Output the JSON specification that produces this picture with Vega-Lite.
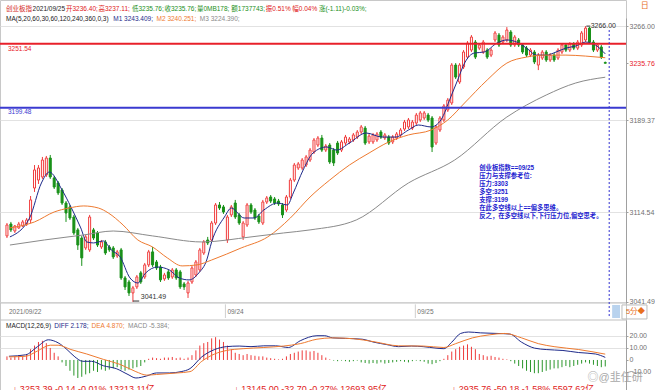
{
"$schema":"https://vega.github.io/schema/vega-lite/v6.json",
"width":626,"height":390,
"autosize":{"type":"none"},
"padding":{"left":0,"top":0,"right":29,"bottom":0},
"background":"#ffffff",
"config":{"view":{"stroke":"#c8c8c8"},"text":{"font":"Liberation Sans, Noto Sans CJK SC"},"axis":{"labelFont":"Liberation Sans"}},
"datasets":{
"k":[
{"i":0,"o":3095.2,"h":3105.7,"l":3093.5,"c":3104.1,"m":3},
{"i":1,"o":3104.9,"h":3106.6,"l":3098.4,"c":3100.1,"m":2},
{"i":2,"o":3099.2,"h":3104.1,"l":3097.6,"c":3103.3,"m":3},
{"i":3,"o":3101.7,"h":3106.6,"l":3100.9,"c":3104.9,"m":4},
{"i":4,"o":3103.3,"h":3108.2,"l":3102.5,"c":3106.6,"m":3},
{"i":5,"o":3104.9,"h":3109.8,"l":3103.3,"c":3108.2,"m":5},
{"i":6,"o":3108.2,"h":3127.7,"l":3105.7,"c":3124.5,"m":9},
{"i":7,"o":3134.2,"h":3152.9,"l":3131.0,"c":3148.9,"m":12},
{"i":8,"o":3140.7,"h":3152.9,"l":3137.5,"c":3150.5,"m":15},
{"i":9,"o":3143.2,"h":3159.5,"l":3141.6,"c":3157.0,"m":16},
{"i":10,"o":3144.8,"h":3160.3,"l":3143.2,"c":3158.6,"m":14},
{"i":11,"o":3158.6,"h":3161.1,"l":3141.6,"c":3143.2,"m":10},
{"i":12,"o":3142.4,"h":3144.0,"l":3133.4,"c":3135.0,"m":6},
{"i":13,"o":3138.3,"h":3139.9,"l":3128.5,"c":3130.2,"m":3},
{"i":14,"o":3132.6,"h":3134.2,"l":3120.4,"c":3122.0,"m":-2},
{"i":15,"o":3122.0,"h":3123.6,"l":3106.6,"c":3113.9,"m":-5},
{"i":16,"o":3118.8,"h":3120.4,"l":3108.2,"c":3109.8,"m":-9},
{"i":17,"o":3110.6,"h":3112.3,"l":3096.0,"c":3097.6,"m":-13},
{"i":18,"o":3100.1,"h":3101.7,"l":3083.8,"c":3087.8,"m":-15},
{"i":19,"o":3093.5,"h":3095.2,"l":3070.8,"c":3077.3,"m":-14},
{"i":20,"o":3085.4,"h":3096.0,"l":3083.8,"c":3094.4,"m":-12},
{"i":21,"o":3083.8,"h":3112.3,"l":3082.2,"c":3110.6,"m":-11},
{"i":22,"o":3100.1,"h":3101.7,"l":3091.9,"c":3093.5,"m":-9},
{"i":23,"o":3097.6,"h":3099.2,"l":3086.2,"c":3087.8,"m":-10},
{"i":24,"o":3086.2,"h":3091.9,"l":3084.6,"c":3090.3,"m":-8},
{"i":25,"o":3090.3,"h":3091.9,"l":3079.7,"c":3081.3,"m":-9},
{"i":26,"o":3086.2,"h":3087.8,"l":3082.2,"c":3083.8,"m":-8},
{"i":27,"o":3085.4,"h":3087.0,"l":3076.4,"c":3078.1,"m":-7},
{"i":28,"o":3078.9,"h":3083.8,"l":3077.3,"c":3082.2,"m":-6},
{"i":29,"o":3083.8,"h":3085.4,"l":3059.4,"c":3061.0,"m":-8},
{"i":30,"o":3061.0,"h":3062.6,"l":3051.2,"c":3053.7,"m":-9},
{"i":31,"o":3057.7,"h":3059.4,"l":3046.3,"c":3048.8,"m":-8},
{"i":32,"o":3048.8,"h":3054.5,"l":3041.49,"c":3052.9,"m":-7},
{"i":33,"o":3053.7,"h":3063.4,"l":3052.0,"c":3061.8,"m":-6},
{"i":34,"o":3065.1,"h":3066.7,"l":3056.1,"c":3057.7,"m":-5},
{"i":35,"o":3061.8,"h":3073.2,"l":3060.2,"c":3071.6,"m":-2},
{"i":36,"o":3071.6,"h":3083.8,"l":3069.9,"c":3082.2,"m":1},
{"i":37,"o":3082.2,"h":3086.2,"l":3069.9,"c":3071.6,"m":2},
{"i":38,"o":3074.0,"h":3075.6,"l":3067.5,"c":3069.1,"m":1.5},
{"i":39,"o":3069.9,"h":3071.6,"l":3057.7,"c":3059.4,"m":1},
{"i":40,"o":3060.2,"h":3065.1,"l":3058.6,"c":3063.4,"m":2},
{"i":41,"o":3065.9,"h":3067.5,"l":3059.4,"c":3061.0,"m":2},
{"i":42,"o":3061.8,"h":3069.1,"l":3060.2,"c":3067.5,"m":2.5},
{"i":43,"o":3067.5,"h":3069.1,"l":3059.4,"c":3061.0,"m":1.5},
{"i":44,"o":3065.9,"h":3067.5,"l":3052.0,"c":3053.7,"m":2},
{"i":45,"o":3056.1,"h":3057.7,"l":3051.2,"c":3053.7,"m":1},
{"i":46,"o":3048.8,"h":3058.6,"l":3044.7,"c":3056.9,"m":2},
{"i":47,"o":3057.7,"h":3070.8,"l":3056.1,"c":3069.1,"m":4},
{"i":48,"o":3063.4,"h":3075.6,"l":3061.8,"c":3074.0,"m":8},
{"i":49,"o":3067.5,"h":3085.4,"l":3065.9,"c":3083.8,"m":12},
{"i":50,"o":3081.3,"h":3091.9,"l":3079.7,"c":3090.3,"m":14},
{"i":51,"o":3091.9,"h":3094.4,"l":3087.8,"c":3089.5,"m":15},
{"i":52,"o":3091.9,"h":3107.4,"l":3090.3,"c":3105.7,"m":18},
{"i":53,"o":3105.7,"h":3122.0,"l":3104.1,"c":3120.4,"m":19},
{"i":54,"o":3120.4,"h":3122.8,"l":3116.3,"c":3117.9,"m":17},
{"i":55,"o":3118.8,"h":3120.4,"l":3113.1,"c":3114.7,"m":15},
{"i":56,"o":3091.9,"h":3112.3,"l":3089.5,"c":3110.6,"m":12},
{"i":57,"o":3112.3,"h":3120.4,"l":3110.6,"c":3118.8,"m":9},
{"i":58,"o":3122.0,"h":3124.5,"l":3109.0,"c":3110.6,"m":6},
{"i":59,"o":3112.3,"h":3113.9,"l":3104.1,"c":3105.7,"m":5},
{"i":60,"o":3094.4,"h":3107.4,"l":3091.9,"c":3105.7,"m":4},
{"i":61,"o":3104.1,"h":3122.0,"l":3102.5,"c":3120.4,"m":5},
{"i":62,"o":3120.4,"h":3122.0,"l":3113.1,"c":3114.7,"m":4},
{"i":63,"o":3116.3,"h":3117.9,"l":3108.2,"c":3109.8,"m":3.5},
{"i":64,"o":3111.4,"h":3113.1,"l":3104.9,"c":3106.6,"m":3},
{"i":65,"o":3105.7,"h":3124.5,"l":3104.1,"c":3122.8,"m":3},
{"i":66,"o":3122.8,"h":3127.7,"l":3121.2,"c":3126.1,"m":2},
{"i":67,"o":3126.9,"h":3128.5,"l":3122.0,"c":3123.6,"m":1.5},
{"i":68,"o":3125.3,"h":3126.9,"l":3120.4,"c":3122.0,"m":1},
{"i":69,"o":3123.6,"h":3125.3,"l":3119.6,"c":3121.2,"m":0.5},
{"i":70,"o":3120.4,"h":3122.0,"l":3109.8,"c":3112.3,"m":1},
{"i":71,"o":3116.3,"h":3128.5,"l":3114.7,"c":3126.9,"m":3},
{"i":72,"o":3126.9,"h":3142.4,"l":3125.3,"c":3140.7,"m":5},
{"i":73,"o":3140.7,"h":3154.6,"l":3139.1,"c":3152.9,"m":6},
{"i":74,"o":3150.5,"h":3155.4,"l":3148.9,"c":3153.8,"m":7},
{"i":75,"o":3150.5,"h":3158.6,"l":3148.9,"c":3157.0,"m":8},
{"i":76,"o":3152.9,"h":3161.1,"l":3151.3,"c":3159.5,"m":8},
{"i":77,"o":3157.0,"h":3166.8,"l":3155.4,"c":3165.1,"m":7},
{"i":78,"o":3163.5,"h":3174.9,"l":3161.9,"c":3173.3,"m":7.5},
{"i":79,"o":3169.2,"h":3176.5,"l":3167.6,"c":3174.9,"m":6},
{"i":80,"o":3174.9,"h":3177.4,"l":3163.5,"c":3165.1,"m":4},
{"i":81,"o":3165.1,"h":3170.0,"l":3163.5,"c":3168.4,"m":2},
{"i":82,"o":3169.2,"h":3170.8,"l":3153.8,"c":3155.4,"m":0.5},
{"i":83,"o":3165.1,"h":3166.8,"l":3152.1,"c":3154.6,"m":-0.5},
{"i":84,"o":3170.8,"h":3172.5,"l":3161.1,"c":3162.7,"m":-1},
{"i":85,"o":3165.1,"h":3173.3,"l":3163.5,"c":3171.7,"m":-0.5},
{"i":86,"o":3170.8,"h":3177.4,"l":3169.2,"c":3175.7,"m":-1},
{"i":87,"o":3171.7,"h":3175.7,"l":3170.0,"c":3174.1,"m":-1.5},
{"i":88,"o":3173.3,"h":3179.0,"l":3171.7,"c":3177.4,"m":-1},
{"i":89,"o":3175.7,"h":3181.4,"l":3174.1,"c":3179.8,"m":-0.5},
{"i":90,"o":3179.8,"h":3185.5,"l":3178.2,"c":3183.9,"m":-2},
{"i":91,"o":3183.0,"h":3184.7,"l":3169.2,"c":3170.8,"m":-2.5},
{"i":92,"o":3171.7,"h":3178.2,"l":3170.0,"c":3176.5,"m":-3},
{"i":93,"o":3171.7,"h":3179.0,"l":3170.0,"c":3177.4,"m":-2.5},
{"i":94,"o":3173.3,"h":3179.8,"l":3171.7,"c":3178.2,"m":-3},
{"i":95,"o":3179.8,"h":3181.4,"l":3174.1,"c":3175.7,"m":-2},
{"i":96,"o":3174.9,"h":3179.0,"l":3173.3,"c":3177.4,"m":-3},
{"i":97,"o":3175.7,"h":3177.4,"l":3169.2,"c":3170.8,"m":-2.5},
{"i":98,"o":3171.7,"h":3177.4,"l":3170.0,"c":3175.7,"m":-2},
{"i":99,"o":3174.9,"h":3179.8,"l":3173.3,"c":3178.2,"m":-1.5},
{"i":100,"o":3177.4,"h":3183.0,"l":3175.7,"c":3181.4,"m":-1},
{"i":101,"o":3182.2,"h":3189.6,"l":3180.6,"c":3187.9,"m":-1.5},
{"i":102,"o":3183.9,"h":3191.2,"l":3182.2,"c":3189.6,"m":-2},
{"i":103,"o":3183.0,"h":3189.6,"l":3181.4,"c":3187.9,"m":-1},
{"i":104,"o":3187.1,"h":3195.3,"l":3185.5,"c":3193.6,"m":-0.5},
{"i":105,"o":3189.6,"h":3196.9,"l":3187.9,"c":3195.3,"m":-1},
{"i":106,"o":3191.2,"h":3196.9,"l":3189.6,"c":3195.3,"m":-1.5},
{"i":107,"o":3193.6,"h":3195.3,"l":3187.9,"c":3189.6,"m":-3},
{"i":108,"o":3191.2,"h":3192.8,"l":3163.5,"c":3167.6,"m":-3.5},
{"i":109,"o":3170.8,"h":3185.5,"l":3169.2,"c":3183.9,"m":-2.5},
{"i":110,"o":3181.4,"h":3192.8,"l":3179.8,"c":3191.2,"m":-1},
{"i":111,"o":3189.6,"h":3202.6,"l":3187.9,"c":3201.0,"m":1},
{"i":112,"o":3197.7,"h":3207.5,"l":3196.1,"c":3205.8,"m":4},
{"i":113,"o":3203.4,"h":3235.9,"l":3201.8,"c":3234.3,"m":7},
{"i":114,"o":3234.3,"h":3235.9,"l":3222.9,"c":3224.5,"m":9},
{"i":115,"o":3220.5,"h":3235.9,"l":3218.9,"c":3234.3,"m":11},
{"i":116,"o":3232.7,"h":3246.5,"l":3231.1,"c":3244.9,"m":12},
{"i":117,"o":3240.8,"h":3253.8,"l":3239.2,"c":3252.2,"m":13},
{"i":118,"o":3246.5,"h":3258.7,"l":3244.9,"c":3257.1,"m":11},
{"i":119,"o":3253.0,"h":3254.7,"l":3239.2,"c":3240.8,"m":9},
{"i":120,"o":3248.1,"h":3252.2,"l":3246.5,"c":3250.6,"m":5},
{"i":121,"o":3244.9,"h":3254.7,"l":3243.3,"c":3253.0,"m":4},
{"i":122,"o":3246.5,"h":3248.1,"l":3239.2,"c":3240.8,"m":3},
{"i":123,"o":3242.4,"h":3248.1,"l":3240.8,"c":3246.5,"m":3.5},
{"i":124,"o":3254.7,"h":3262.0,"l":3253.0,"c":3260.4,"m":2.5},
{"i":125,"o":3258.7,"h":3260.4,"l":3249.0,"c":3250.6,"m":2},
{"i":126,"o":3253.0,"h":3258.7,"l":3251.4,"c":3257.1,"m":1},
{"i":127,"o":3254.7,"h":3265.2,"l":3253.0,"c":3262.8,"m":0.5},
{"i":128,"o":3261.2,"h":3262.8,"l":3249.0,"c":3250.6,"m":-1},
{"i":129,"o":3250.6,"h":3258.7,"l":3249.0,"c":3257.1,"m":-3},
{"i":130,"o":3254.7,"h":3256.3,"l":3249.0,"c":3250.6,"m":-5},
{"i":131,"o":3250.6,"h":3252.2,"l":3243.3,"c":3244.9,"m":-7},
{"i":132,"o":3248.1,"h":3249.8,"l":3240.8,"c":3242.4,"m":-9},
{"i":133,"o":3242.4,"h":3248.1,"l":3240.8,"c":3246.5,"m":-10},
{"i":134,"o":3244.9,"h":3246.5,"l":3235.1,"c":3236.8,"m":-11},
{"i":135,"o":3234.3,"h":3244.1,"l":3230.2,"c":3242.4,"m":-11},
{"i":136,"o":3240.0,"h":3246.5,"l":3238.4,"c":3244.9,"m":-10},
{"i":137,"o":3244.9,"h":3246.5,"l":3236.8,"c":3238.4,"m":-9},
{"i":138,"o":3238.4,"h":3244.1,"l":3236.8,"c":3242.4,"m":-8},
{"i":139,"o":3242.4,"h":3244.1,"l":3236.8,"c":3238.4,"m":-7},
{"i":140,"o":3240.0,"h":3248.1,"l":3238.4,"c":3246.5,"m":-7},
{"i":141,"o":3244.9,"h":3252.2,"l":3243.3,"c":3250.6,"m":-6},
{"i":142,"o":3250.6,"h":3252.2,"l":3244.9,"c":3246.5,"m":-5},
{"i":143,"o":3246.5,"h":3253.0,"l":3244.9,"c":3251.4,"m":-6},
{"i":144,"o":3251.4,"h":3253.0,"l":3246.5,"c":3248.1,"m":-5},
{"i":145,"o":3248.1,"h":3254.7,"l":3246.5,"c":3253.0,"m":-4},
{"i":146,"o":3250.6,"h":3262.0,"l":3249.0,"c":3260.4,"m":-3},
{"i":147,"o":3254.7,"h":3266.0,"l":3253.0,"c":3264.4,"m":-2},
{"i":148,"o":3264.4,"h":3265.2,"l":3251.4,"c":3253.0,"m":-3},
{"i":149,"o":3253.0,"h":3254.7,"l":3244.9,"c":3246.5,"m":-4},
{"i":150,"o":3246.5,"h":3252.2,"l":3244.9,"c":3250.6,"m":-5},
{"i":151,"o":3249.0,"h":3250.6,"l":3239.2,"c":3240.8,"m":-6},
{"i":152,"o":3236.4,"h":3237.11,"l":3235.76,"c":3235.76,"m":-5.384}
],
"ma":[
{"i":0.75,"v":3094.4,"s":"MA5"},{"i":5.75,"v":3109.8,"s":"MA5"},{"i":8.75,"v":3138.3,"s":"MA5"},{"i":10.75,"v":3147.2,"s":"MA5"},{"i":14,"v":3132.6,"s":"MA5"},{"i":16.25,"v":3118.8,"s":"MA5"},{"i":18.75,"v":3101.7,"s":"MA5"},{"i":20.25,"v":3090.3,"s":"MA5"},{"i":22,"v":3089.5,"s":"MA5"},{"i":24.5,"v":3091.1,"s":"MA5"},{"i":26.5,"v":3083.8,"s":"MA5"},{"i":28.75,"v":3078.1,"s":"MA5"},{"i":31.25,"v":3061.0,"s":"MA5"},{"i":33.25,"v":3056.9,"s":"MA5"},{"i":35.25,"v":3065.1,"s":"MA5"},{"i":38.25,"v":3069.9,"s":"MA5"},{"i":41.25,"v":3067.5,"s":"MA5"},{"i":43.75,"v":3061.0,"s":"MA5"},{"i":46.25,"v":3059.4,"s":"MA5"},{"i":48.75,"v":3065.1,"s":"MA5"},{"i":50.75,"v":3075.6,"s":"MA5"},{"i":52,"v":3090.3,"s":"MA5"},{"i":55.25,"v":3110.6,"s":"MA5"},{"i":57,"v":3117.9,"s":"MA5"},{"i":60.25,"v":3109.8,"s":"MA5"},{"i":62.75,"v":3109.8,"s":"MA5"},{"i":65.25,"v":3116.3,"s":"MA5"},{"i":68.75,"v":3122.0,"s":"MA5"},{"i":71.25,"v":3120.4,"s":"MA5"},{"i":72.75,"v":3130.2,"s":"MA5"},{"i":75.25,"v":3148.9,"s":"MA5"},{"i":77.75,"v":3162.7,"s":"MA5"},{"i":81.25,"v":3167.6,"s":"MA5"},{"i":83.75,"v":3165.1,"s":"MA5"},{"i":87,"v":3170.8,"s":"MA5"},{"i":91.25,"v":3179.0,"s":"MA5"},{"i":95.25,"v":3175.7,"s":"MA5"},{"i":98.75,"v":3175.7,"s":"MA5"},{"i":102,"v":3181.4,"s":"MA5"},{"i":104.5,"v":3185.5,"s":"MA5"},{"i":107.75,"v":3183.9,"s":"MA5"},{"i":110.25,"v":3189.6,"s":"MA5"},{"i":112.75,"v":3208.3,"s":"MA5"},{"i":114.5,"v":3222.1,"s":"MA5"},{"i":116.25,"v":3235.9,"s":"MA5"},{"i":118.75,"v":3244.1,"s":"MA5"},{"i":121.25,"v":3244.9,"s":"MA5"},{"i":124.5,"v":3252.2,"s":"MA5"},{"i":127,"v":3254.7,"s":"MA5"},{"i":129.5,"v":3253.0,"s":"MA5"},{"i":132,"v":3248.1,"s":"MA5"},{"i":134.5,"v":3242.4,"s":"MA5"},{"i":137,"v":3242.4,"s":"MA5"},{"i":139.5,"v":3244.9,"s":"MA5"},{"i":142,"v":3248.1,"s":"MA5"},{"i":144.5,"v":3249.8,"s":"MA5"},{"i":147,"v":3253.0,"s":"MA5"},{"i":149.5,"v":3250.6,"s":"MA5"},{"i":152,"v":3243.4,"s":"MA5"},
{"i":0.75,"v":3101.7,"s":"MA20"},{"i":7,"v":3106.6,"s":"MA20"},{"i":12,"v":3114.7,"s":"MA20"},{"i":15.75,"v":3117.9,"s":"MA20"},{"i":19.5,"v":3119.6,"s":"MA20"},{"i":23.25,"v":3117.9,"s":"MA20"},{"i":25.75,"v":3113.9,"s":"MA20"},{"i":29.5,"v":3104.1,"s":"MA20"},{"i":33.25,"v":3091.9,"s":"MA20"},{"i":37,"v":3086.2,"s":"MA20"},{"i":40.75,"v":3077.3,"s":"MA20"},{"i":44.5,"v":3070.8,"s":"MA20"},{"i":48.25,"v":3071.6,"s":"MA20"},{"i":52,"v":3075.6,"s":"MA20"},{"i":59.5,"v":3085.4,"s":"MA20"},{"i":66.25,"v":3094.4,"s":"MA20"},{"i":72,"v":3109.8,"s":"MA20"},{"i":77,"v":3126.9,"s":"MA20"},{"i":82,"v":3140.7,"s":"MA20"},{"i":87,"v":3152.9,"s":"MA20"},{"i":92,"v":3162.7,"s":"MA20"},{"i":97,"v":3171.7,"s":"MA20"},{"i":102,"v":3177.4,"s":"MA20"},{"i":107.75,"v":3181.4,"s":"MA20"},{"i":112,"v":3189.6,"s":"MA20"},{"i":116.25,"v":3203.4,"s":"MA20"},{"i":122,"v":3222.1,"s":"MA20"},{"i":127,"v":3235.9,"s":"MA20"},{"i":132,"v":3240.8,"s":"MA20"},{"i":137,"v":3242.4,"s":"MA20"},{"i":142,"v":3242.4,"s":"MA20"},{"i":147,"v":3241.6,"s":"MA20"},{"i":152,"v":3240.25,"s":"MA20"},
{"i":0.75,"v":3087.8,"s":"MA60"},{"i":9.5,"v":3091.9,"s":"MA60"},{"i":19.5,"v":3096.0,"s":"MA60"},{"i":27,"v":3099.2,"s":"MA60"},{"i":37,"v":3095.2,"s":"MA60"},{"i":49.5,"v":3090.3,"s":"MA60"},{"i":62,"v":3094.4,"s":"MA60"},{"i":70.25,"v":3097.6,"s":"MA60"},{"i":77,"v":3100.1,"s":"MA60"},{"i":88.75,"v":3108.2,"s":"MA60"},{"i":102,"v":3138.3,"s":"MA60"},{"i":113.75,"v":3157.0,"s":"MA60"},{"i":127,"v":3192.0,"s":"MA60"},{"i":137,"v":3209.9,"s":"MA60"},{"i":144.5,"v":3219.7,"s":"MA60"},{"i":152,"v":3224.39,"s":"MA60"}
],
"md":[
{"i":0.5,"v":3.1,"s":"DIFF"},{"i":4.75,"v":4.3,"s":"DIFF"},{"i":7.75,"v":11.1,"s":"DIFF"},{"i":10.5,"v":16.8,"s":"DIFF"},{"i":13,"v":14.3,"s":"DIFF"},{"i":15.25,"v":8.7,"s":"DIFF"},{"i":17.25,"v":2.6,"s":"DIFF"},{"i":19.25,"v":-1.1,"s":"DIFF"},{"i":21.5,"v":-1.1,"s":"DIFF"},{"i":24.5,"v":-4.8,"s":"DIFF"},{"i":27.75,"v":-7.2,"s":"DIFF"},{"i":30.75,"v":-12.1,"s":"DIFF"},{"i":32.75,"v":-15.0,"s":"DIFF"},{"i":35.5,"v":-13.3,"s":"DIFF"},{"i":38,"v":-10.8,"s":"DIFF"},{"i":41.25,"v":-10.8,"s":"DIFF"},{"i":44.25,"v":-9.7,"s":"DIFF"},{"i":46.5,"v":-7.2,"s":"DIFF"},{"i":49.5,"v":2.6,"s":"DIFF"},{"i":52.75,"v":8.7,"s":"DIFF"},{"i":55.75,"v":11.1,"s":"DIFF"},{"i":59,"v":11.6,"s":"DIFF"},{"i":62,"v":11.1,"s":"DIFF"},{"i":65.25,"v":11.8,"s":"DIFF"},{"i":68.25,"v":11.8,"s":"DIFF"},{"i":71.5,"v":10.4,"s":"DIFF"},{"i":74.5,"v":16.0,"s":"DIFF"},{"i":78.75,"v":20.2,"s":"DIFF"},{"i":80.75,"v":20.2,"s":"DIFF"},{"i":82.75,"v":18.4,"s":"DIFF"},{"i":86,"v":18.0,"s":"DIFF"},{"i":90.25,"v":17.3,"s":"DIFF"},{"i":93.25,"v":14.8,"s":"DIFF"},{"i":96.5,"v":12.8,"s":"DIFF"},{"i":99.5,"v":11.1,"s":"DIFF"},{"i":102.75,"v":11.6,"s":"DIFF"},{"i":105.75,"v":11.1,"s":"DIFF"},{"i":109,"v":9.9,"s":"DIFF"},{"i":111,"v":9.4,"s":"DIFF"},{"i":113,"v":14.8,"s":"DIFF"},{"i":115.25,"v":22.1,"s":"DIFF"},{"i":117.25,"v":23.3,"s":"DIFF"},{"i":120.25,"v":22.6,"s":"DIFF"},{"i":124.5,"v":22.1,"s":"DIFF"},{"i":127.75,"v":21.6,"s":"DIFF"},{"i":130.75,"v":14.8,"s":"DIFF"},{"i":134,"v":9.9,"s":"DIFF"},{"i":137,"v":8.7,"s":"DIFF"},{"i":141.25,"v":7.9,"s":"DIFF"},{"i":145.25,"v":6.2,"s":"DIFF"},{"i":149.5,"v":5.0,"s":"DIFF"},{"i":152,"v":2.178,"s":"DIFF"},
{"i":0.5,"v":2.6,"s":"DEA"},{"i":4.75,"v":3.1,"s":"DEA"},{"i":7.75,"v":7.5,"s":"DEA"},{"i":11,"v":12.3,"s":"DEA"},{"i":13,"v":12.3,"s":"DEA"},{"i":16.25,"v":8.7,"s":"DEA"},{"i":20.25,"v":5.0,"s":"DEA"},{"i":24.5,"v":0.5,"s":"DEA"},{"i":28.75,"v":-3.7,"s":"DEA"},{"i":32.75,"v":-9.7,"s":"DEA"},{"i":35.5,"v":-12.6,"s":"DEA"},{"i":38,"v":-12.1,"s":"DEA"},{"i":43.25,"v":-10.8,"s":"DEA"},{"i":46.5,"v":-9.7,"s":"DEA"},{"i":49.5,"v":-1.1,"s":"DEA"},{"i":52.75,"v":5.0,"s":"DEA"},{"i":55.75,"v":7.9,"s":"DEA"},{"i":60,"v":9.4,"s":"DEA"},{"i":65.25,"v":10.4,"s":"DEA"},{"i":70.25,"v":11.6,"s":"DEA"},{"i":74.5,"v":13.6,"s":"DEA"},{"i":78.75,"v":17.3,"s":"DEA"},{"i":82.75,"v":18.4,"s":"DEA"},{"i":88,"v":17.7,"s":"DEA"},{"i":93.25,"v":15.2,"s":"DEA"},{"i":99.5,"v":11.8,"s":"DEA"},{"i":105.75,"v":11.6,"s":"DEA"},{"i":111,"v":10.4,"s":"DEA"},{"i":114,"v":13.6,"s":"DEA"},{"i":118.25,"v":18.4,"s":"DEA"},{"i":122.5,"v":20.9,"s":"DEA"},{"i":126.5,"v":22.1,"s":"DEA"},{"i":130.75,"v":18.4,"s":"DEA"},{"i":135,"v":13.6,"s":"DEA"},{"i":139,"v":11.1,"s":"DEA"},{"i":145.25,"v":8.7,"s":"DEA"},{"i":152,"v":4.87,"s":"DEA"}
]
},
"resolve":{"scale":{"y":"independent"},"axis":{"y":"independent"}},
"layer":[
{"layer":[
{"data":{"name":"k"},"mark":{"type":"rule","strokeWidth":1},
 "encoding":{
  "x":{"field":"i","type":"quantitative","scale":{"domain":[-0.5,156],"nice":false,"zero":false},"axis":null},
  "y":{"field":"l","type":"quantitative","scale":{"domain":[3040.6,3272.6],"range":[303,18],"nice":false,"zero":false},
   "axis":{"orient":"right","values":[3266,3235.76,3189.37,3114.54,3041.49],"format":".2f","title":null,"labelFontSize":7,
    "labelColor":{"condition":{"test":"datum.value == 3235.76","value":"#e8202a"},"value":"#707070"},
    "tickSize":2,"tickColor":"#a0a0a0","domainColor":"#a0a0a0","labelPadding":1,"grid":true,"gridColor":"#e2e2e2",
    "gridOpacity":{"condition":{"test":"datum.value == 3235.76","value":0},"value":1},"labelOverlap":false,"labelBound":false}},
  "y2":{"field":"h"},
  "color":{"condition":{"test":"datum.c >= datum.o","value":"#f03c3c"},"value":"#199119"}}},
{"data":{"name":"k"},"mark":{"type":"bar","size":2,"strokeWidth":1},
 "encoding":{
  "x":{"field":"i","type":"quantitative"},
  "y":{"field":"o","type":"quantitative"},
  "y2":{"field":"c"},
  "fill":{"condition":{"test":"datum.c >= datum.o","value":"#ffffff"},"value":"#199119"},
  "stroke":{"condition":{"test":"datum.c >= datum.o","value":"#f03c3c"},"value":"#199119"}}},
{"data":{"name":"ma"},"mark":{"type":"line","strokeWidth":1,"interpolate":"monotone"},
 "encoding":{
  "x":{"field":"i","type":"quantitative"},
  "y":{"field":"v","type":"quantitative"},
  "color":{"field":"s","type":"nominal","scale":{"domain":["MA5","MA20","MA60","DIFF","DEA"],"range":["#1e2a8a","#ee7a30","#8a8a8a","#1e2a8a","#ee7a30"]},"legend":null}}},
{"data":{"values":[{}]},"mark":{"type":"rule","color":"#e8202a","strokeWidth":2},"encoding":{"y":{"datum":3251.54}}},
{"data":{"values":[{}]},"mark":{"type":"rule","color":"#3a3ad0","strokeWidth":2},"encoding":{"y":{"datum":3199.48}}},
{"data":{"values":[{}]},"mark":{"type":"rule","color":"#c0c0c0","strokeWidth":1},"encoding":{"y":{"datum":3040.6}}},
{"data":{"values":[{}]},"mark":{"type":"rule","color":"#3030d0","strokeWidth":1,"strokeDash":[2,2]},"encoding":{"x":{"datum":153},"y":{"datum":3262.8},"y2":{"datum":3028.4}}},
{"data":{"values":[{}]},"mark":{"type":"rect","color":"#b9d3ee"},"encoding":{"x":{"datum":153.75},"x2":{"datum":155.75},"y":{"datum":3039.0},"y2":{"datum":3028.4}}},
{"data":{"values":[{}]},"mark":{"type":"rect","fill":"transparent","stroke":"#bbbbbb","strokeWidth":1},"encoding":{"x":{"datum":156.25},"x2":{"datum":162.6},"y":{"datum":3039.0},"y2":{"datum":3027.6}}},
{"data":{"values":[{}]},"mark":{"type":"text","text":"5分◆","align":"left","baseline":"middle","fontSize":7.5,"color":"#e8701e"},"encoding":{"x":{"datum":157.25},"y":{"datum":3033.3}}},
{"data":{"values":[{}]},"mark":{"type":"rule","color":"#cfcfcf","strokeWidth":1},"encoding":{"x":{"datum":55.5},"y":{"datum":3039.5},"y2":{"datum":3028.4}}},
{"data":{"values":[{}]},"mark":{"type":"rule","color":"#cfcfcf","strokeWidth":1},"encoding":{"x":{"datum":103.75},"y":{"datum":3039.5},"y2":{"datum":3028.4}}},
{"data":{"values":[{}]},"mark":{"type":"text","text":"2021/09/22","align":"left","baseline":"middle","fontSize":6.5,"color":"#707070"},"encoding":{"x":{"datum":0.5},"y":{"datum":3033.3}}},
{"data":{"values":[{}]},"mark":{"type":"text","text":"09/24","align":"left","baseline":"middle","fontSize":6.5,"color":"#707070"},"encoding":{"x":{"datum":56},"y":{"datum":3033.3}}},
{"data":{"values":[{}]},"mark":{"type":"text","text":"09/25","align":"left","baseline":"middle","fontSize":6.5,"color":"#707070"},"encoding":{"x":{"datum":104.25},"y":{"datum":3033.3}}},
{"data":{"values":[{}]},"mark":{"type":"text","text":"3251.54","align":"left","baseline":"middle","fontSize":6.5,"color":"#e8202a"},"encoding":{"x":{"datum":0.25},"y":{"datum":3247.3}}},
{"data":{"values":[{}]},"mark":{"type":"text","text":"3199.48","align":"left","baseline":"middle","fontSize":6.5,"color":"#3a3ad0"},"encoding":{"x":{"datum":0.25},"y":{"datum":3196.1}}},
{"data":{"values":[{}]},"mark":{"type":"rule","color":"#333333","strokeWidth":1},"encoding":{"x":{"datum":147.2},"x2":{"datum":148.2},"y":{"datum":3266}}},
{"data":{"values":[{}]},"mark":{"type":"text","text":"3266.00","align":"left","baseline":"middle","fontSize":7,"color":"#333333"},"encoding":{"x":{"datum":148.3},"y":{"datum":3266}}},
{"data":{"values":[{}]},"mark":{"type":"rule","color":"#333333","strokeWidth":1},"encoding":{"x":{"datum":32},"x2":{"datum":33.6},"y":{"datum":3042.2}}},
{"data":{"values":[{}]},"mark":{"type":"text","text":"3041.49","align":"left","baseline":"middle","fontSize":7,"color":"#333333"},"encoding":{"x":{"datum":34},"y":{"datum":3045.5}}},
{"data":{"values":[{}]},"mark":{"type":"text","text":"创业板指数==09/25","align":"left","baseline":"middle","fontSize":6.3,"fontWeight":"bold","color":"#1c1ccf"},"encoding":{"x":{"datum":120},"y":{"datum":3150.5}}},
{"data":{"values":[{}]},"mark":{"type":"text","text":"压力与支撑参考位:","align":"left","baseline":"middle","fontSize":6.3,"fontWeight":"bold","color":"#1c1ccf"},"encoding":{"x":{"datum":120},"y":{"datum":3144.0}}},
{"data":{"values":[{}]},"mark":{"type":"text","text":"压力:3303","align":"left","baseline":"middle","fontSize":6.3,"fontWeight":"bold","color":"#1c1ccf"},"encoding":{"x":{"datum":120},"y":{"datum":3137.5}}},
{"data":{"values":[{}]},"mark":{"type":"text","text":"多空:3251","align":"left","baseline":"middle","fontSize":6.3,"fontWeight":"bold","color":"#1c1ccf"},"encoding":{"x":{"datum":120},"y":{"datum":3131.0}}},
{"data":{"values":[{}]},"mark":{"type":"text","text":"支撑:3199","align":"left","baseline":"middle","fontSize":6.3,"fontWeight":"bold","color":"#1c1ccf"},"encoding":{"x":{"datum":120},"y":{"datum":3124.5}}},
{"data":{"values":[{}]},"mark":{"type":"text","text":"在此多空线以上==偏多思维。","align":"left","baseline":"middle","fontSize":6.3,"fontWeight":"bold","color":"#1c1ccf"},"encoding":{"x":{"datum":120},"y":{"datum":3117.9}}},
{"data":{"values":[{}]},"mark":{"type":"text","text":"反之，在多空线以下,下行压力位,偏空思考。","align":"left","baseline":"middle","fontSize":6.3,"fontWeight":"bold","color":"#1c1ccf"},"encoding":{"x":{"datum":120},"y":{"datum":3111.4}}},
{"data":{"values":[{}]},"mark":{"type":"text","text":"创业板指","align":"left","baseline":"middle","fontSize":6.5,"color":"#d42a1e"},"encoding":{"x":{"datum":-0.25},"y":{"datum":3279.9}}},
{"data":{"values":[{}]},"mark":{"type":"text","text":"2021/09/25","align":"left","baseline":"middle","fontSize":6.5,"color":"#222222"},"encoding":{"x":{"datum":6.5},"y":{"datum":3279.9}}},
{"data":{"values":[{}]},"mark":{"type":"text","text":"开3236.40;","align":"left","baseline":"middle","fontSize":6.5,"color":"#e02020"},"encoding":{"x":{"datum":15},"y":{"datum":3279.9}}},
{"data":{"values":[{}]},"mark":{"type":"text","text":"高3237.11;","align":"left","baseline":"middle","fontSize":6.5,"color":"#e02020"},"encoding":{"x":{"datum":23.25},"y":{"datum":3279.9}}},
{"data":{"values":[{}]},"mark":{"type":"text","text":"低3235.76;","align":"left","baseline":"middle","fontSize":6.5,"color":"#1a8f1a"},"encoding":{"x":{"datum":31.75},"y":{"datum":3279.9}}},
{"data":{"values":[{}]},"mark":{"type":"text","text":"收3235.76;","align":"left","baseline":"middle","fontSize":6.5,"color":"#1a8f1a"},"encoding":{"x":{"datum":40},"y":{"datum":3279.9}}},
{"data":{"values":[{}]},"mark":{"type":"text","text":"量0MB178;","align":"left","baseline":"middle","fontSize":6.5,"color":"#1a8f1a"},"encoding":{"x":{"datum":48.25},"y":{"datum":3279.9}}},
{"data":{"values":[{}]},"mark":{"type":"text","text":"额1737743;","align":"left","baseline":"middle","fontSize":6.5,"color":"#1a8f1a"},"encoding":{"x":{"datum":57},"y":{"datum":3279.9}}},
{"data":{"values":[{}]},"mark":{"type":"text","text":"振0.51%","align":"left","baseline":"middle","fontSize":6.5,"color":"#e02020"},"encoding":{"x":{"datum":65.75},"y":{"datum":3279.9}}},
{"data":{"values":[{}]},"mark":{"type":"text","text":"幅0.04%","align":"left","baseline":"middle","fontSize":6.5,"color":"#e02020"},"encoding":{"x":{"datum":72.5},"y":{"datum":3279.9}}},
{"data":{"values":[{}]},"mark":{"type":"text","text":"涨(-1.11)-0.03%;","align":"left","baseline":"middle","fontSize":6.5,"color":"#1a8f1a"},"encoding":{"x":{"datum":79.25},"y":{"datum":3279.9}}},
{"data":{"values":[{}]},"mark":{"type":"text","text":"MA(5,20,60,30,60,120,240,360,0,3)","align":"left","baseline":"middle","fontSize":6.5,"color":"#222222"},"encoding":{"x":{"datum":-0.25},"y":{"datum":3271.7}}},
{"data":{"values":[{}]},"mark":{"type":"text","text":"M1 3243.409;","align":"left","baseline":"middle","fontSize":6.5,"color":"#1e2a8a"},"encoding":{"x":{"datum":27},"y":{"datum":3271.7}}},
{"data":{"values":[{}]},"mark":{"type":"text","text":"M2 3240.251;","align":"left","baseline":"middle","fontSize":6.5,"color":"#ee7a30"},"encoding":{"x":{"datum":38},"y":{"datum":3271.7}}},
{"data":{"values":[{}]},"mark":{"type":"text","text":"M3 3224.390;","align":"left","baseline":"middle","fontSize":6.5,"color":"#8a8a8a"},"encoding":{"x":{"datum":49},"y":{"datum":3271.7}}},
{"data":{"values":[{}]},"mark":{"type":"text","text":"日","align":"left","baseline":"middle","fontSize":8,"color":"#e8701e"},"encoding":{"x":{"datum":161},"y":{"datum":3282.3}}}
]},
{"layer":[
{"data":{"name":"k"},"mark":{"type":"rule","strokeWidth":1},
 "encoding":{
  "x":{"field":"i","type":"quantitative"},
  "y":{"field":"m","type":"quantitative","scale":{"domain":[-25,33.3],"range":[390,320],"nice":false,"zero":false},
   "axis":{"orient":"right","values":[20,10,0,-10],"labelExpr":"datum.value == 0 ? '0' : format(datum.value, '.2f')","title":null,"labelFontSize":7,"labelColor":"#707070",
    "tickSize":2,"tickColor":"#a0a0a0","domainColor":"#a0a0a0","labelPadding":1,"grid":true,"gridColor":"#e2e2e2",
    "gridOpacity":{"condition":{"test":"datum.value <= 0","value":0},"value":1},"labelOverlap":false,"labelBound":false}},
  "y2":{"datum":0},
  "color":{"condition":{"test":"datum.m >= 0","value":"#ee3b3b"},"value":"#2b962b"}}},
{"data":{"name":"md"},"mark":{"type":"line","strokeWidth":1,"interpolate":"monotone"},
 "encoding":{
  "x":{"field":"i","type":"quantitative"},
  "y":{"field":"v","type":"quantitative"},
  "color":{"field":"s","type":"nominal","scale":{"domain":["MA5","MA20","MA60","DIFF","DEA"],"range":["#1e2a8a","#ee7a30","#8a8a8a","#1e2a8a","#ee7a30"]},"legend":null}}},
{"data":{"values":[{}]},"mark":{"type":"rule","color":"#c0c0c0","strokeWidth":1},"encoding":{"y":{"datum":33.3}}},
{"data":{"values":[{}]},"mark":{"type":"text","text":"MACD(12,26,9)","align":"left","baseline":"middle","fontSize":6.5,"color":"#222222"},"encoding":{"x":{"datum":-0.25},"y":{"datum":28.3}}},
{"data":{"values":[{}]},"mark":{"type":"text","text":"DIFF 2.178;","align":"left","baseline":"middle","fontSize":6.5,"color":"#1e2a8a"},"encoding":{"x":{"datum":12},"y":{"datum":28.3}}},
{"data":{"values":[{}]},"mark":{"type":"text","text":"DEA 4.870;","align":"left","baseline":"middle","fontSize":6.5,"color":"#ee7a30"},"encoding":{"x":{"datum":21.5},"y":{"datum":28.3}}},
{"data":{"values":[{}]},"mark":{"type":"text","text":"MACD -5.384;","align":"left","baseline":"middle","fontSize":6.5,"color":"#8a8a8a"},"encoding":{"x":{"datum":30.75},"y":{"datum":28.3}}},
{"data":{"values":[{}]},"mark":{"type":"text","text":"↓ 3253.39  -0.14  -0.01%  13213.11亿","align":"left","baseline":"top","fontSize":9,"color":"#e02020"},"encoding":{"x":{"datum":1.5},"y":{"datum":-21.2}}},
{"data":{"values":[{}]},"mark":{"type":"text","text":"↓ 13145.00  -32.70  -0.27%  12693.95亿","align":"left","baseline":"top","fontSize":9,"color":"#e02020"},"encoding":{"x":{"datum":57.75},"y":{"datum":-21.2}}},
{"data":{"values":[{}]},"mark":{"type":"text","text":"↓ 2935.76  -50.18  -1.58%  5597.62亿","align":"left","baseline":"top","fontSize":9,"color":"#e02020"},"encoding":{"x":{"datum":113},"y":{"datum":-21.2}}},
{"data":{"values":[{}]},"mark":{"type":"text","text":"◎@韭任研","align":"left","baseline":"middle","fontSize":11,"color":"#9a9a9a","opacity":0.85},"encoding":{"x":{"datum":147.5},"y":{"datum":-15}}}
]}
]
}
